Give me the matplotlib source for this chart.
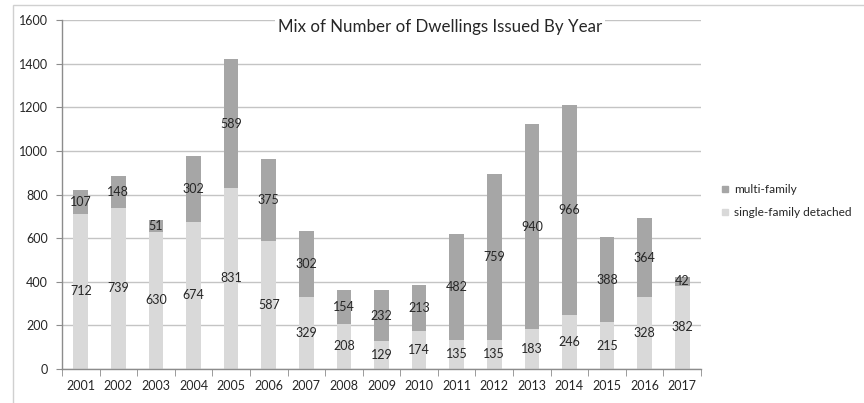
import numpy as np
import matplotlib
matplotlib.use("Agg")
import matplotlib.pyplot as plt
from matplotlib.patches import Rectangle
from matplotlib.lines import Line2D

years = ["2001", "2002", "2003", "2004", "2005", "2006", "2007", "2008", "2009",
         "2010", "2011", "2012", "2013", "2014", "2015", "2016", "2017"]
single_family = [712, 739, 630, 674, 831, 587, 329, 208, 129, 174, 135, 135, 183, 246, 215, 328, 382]
multi_family = [107, 148, 51, 302, 589, 375, 302, 154, 232, 213, 482, 759, 940, 966, 388, 364, 42]

SINGLE_COLOR = "#d9d9d9"
MULTI_COLOR = "#a6a6a6"
GRID_COLOR = "#c4c4c4"
TEXT_COLOR = "#262626"

plt.rcParams["font.family"] = ["Lato", "DejaVu Sans"]

fig = plt.figure(figsize=(8.64, 4.03), dpi=100)
ax = fig.add_axes([62 / 864, 1 - 369 / 403, (701 - 62) / 864, (369 - 20) / 403])

# chart area frame
fig.patches.append(Rectangle((13 / 864, -0.1), 1.2, 1 - 5 / 403 + 0.1,
                             transform=fig.transFigure, fill=False,
                             edgecolor="#d0d0d0", linewidth=1))

x = np.arange(len(years))
w = 0.39
single = np.array(single_family)
multi = np.array(multi_family)

ax.bar(x, single, w, color=SINGLE_COLOR, zorder=2)
ax.bar(x, multi, w, bottom=single, color=MULTI_COLOR, zorder=2)

for i in range(len(years)):
    ax.text(x[i], single[i] / 2, str(single[i]), ha="center", va="center",
            fontsize=9, color=TEXT_COLOR, zorder=3)
    ax.text(x[i], single[i] + multi[i] / 2, str(multi[i]), ha="center", va="center",
            fontsize=9, color=TEXT_COLOR, zorder=3)

ax.set_xlim(-0.5, len(years) - 0.5)
ax.set_ylim(0, 1600)
ax.set_yticks(range(0, 1601, 200))
ax.yaxis.grid(True, color=GRID_COLOR, linewidth=1, zorder=0)
ax.set_axisbelow(True)

ax.set_xticks(x)
ax.set_xticklabels(years)
ax.set_xticks(np.arange(-0.5, len(years)), minor=True)
ax.tick_params(axis="x", which="major", length=0, pad=8, labelsize=9, labelcolor=TEXT_COLOR)
ax.tick_params(axis="x", which="minor", length=5, color="#8c8c8c", direction="out")
ax.tick_params(axis="y", length=4, color="#8c8c8c", labelsize=9, labelcolor=TEXT_COLOR, pad=6)

for side in ["top", "right"]:
    ax.spines[side].set_visible(False)
for side in ["left", "bottom"]:
    ax.spines[side].set_color("#8c8c8c")
    ax.spines[side].set_linewidth(1)

fig.text(440 / 864, 1 - 27 / 403, "Mix of Number of Dwellings Issued By Year",
         ha="center", va="center", fontsize=12.2, color=TEXT_COLOR,
         bbox=dict(facecolor="white", edgecolor="none", pad=2))

handles = [
    Line2D([], [], marker="s", linestyle="none", markersize=5,
           markerfacecolor=MULTI_COLOR, markeredgecolor=MULTI_COLOR, label="multi-family"),
    Line2D([], [], marker="s", linestyle="none", markersize=5,
           markerfacecolor=SINGLE_COLOR, markeredgecolor=SINGLE_COLOR, label="single-family detached"),
]
fig.legend(handles=handles, loc="center left", bbox_to_anchor=(711 / 864, 1 - 201 / 403),
           frameon=False, fontsize=8.6, handlelength=0.6, handletextpad=0.45,
           labelspacing=1.05, labelcolor=TEXT_COLOR)

fig.savefig("out.png", dpi=100)
